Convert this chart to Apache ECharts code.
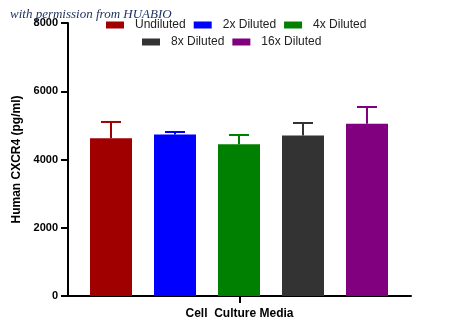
<!DOCTYPE html>
<html><head><meta charset="utf-8">
<script src="https://cdn.jsdelivr.net/npm/echarts@6/dist/echarts.min.js"></script>
<style>html,body{margin:0;padding:0;background:#fff}#c{width:450px;height:336px}</style>
</head><body><div id="c"></div>
<script>
const categories = ['Undiluted', '2x Diluted', '4x Diluted', '8x Diluted', '16x Diluted'];
const means = [4620, 4730, 4445, 4700, 5050];
const upper = [5100, 4806, 4718, 5070, 5538];
const colors = ['#a00000', '#0000ff', '#008000', '#333333', '#800080'];
const groupLabel = ['Cell  Culture Media'];
const yMin = 0, yMax = 8000, yStep = 2000;
const yName = 'Human CXCR4 (pg/ml)';
const watermark = 'with permission from HUABIO';

const chart = echarts.init(document.getElementById('c'), null, {renderer: 'canvas'});

const barSeries = categories.map((name, i) => ({
  name: name,
  type: 'bar',
  xAxisIndex: 1, yAxisIndex: 1,
  stack: 'all',
  barWidth: 42,
  itemStyle: {color: colors[i]},
  data: categories.map((c, j) => j === i ? means[j] : '-'),
  z: 2
}));

const errSeries = {
  type: 'custom',
  xAxisIndex: 1, yAxisIndex: 1,
  data: categories.map((c, i) => [i, means[i], upper[i]]),
  encode: {x: 0, y: [1, 2]},
  z: 3,
  renderItem: function (params, api) {
    const i = api.value(0);
    const top = api.coord([i, api.value(1)]);
    const hi = api.coord([i, api.value(2)]);
    const c = colors[i];
    return {
      type: 'group',
      children: [
        {type: 'line', shape: {x1: top[0], y1: top[1], x2: hi[0], y2: hi[1]}, style: {stroke: c, lineWidth: 2}},
        {type: 'line', shape: {x1: hi[0] - 10, y1: hi[1], x2: hi[0] + 10, y2: hi[1]}, style: {stroke: c, lineWidth: 2}}
      ]
    };
  }
};

const legendCommon = {
  itemWidth: 18, itemHeight: 7, itemGap: 8, icon: 'rect',
  textStyle: {fontFamily: 'Liberation Sans', fontSize: 12, color: '#222', padding: [0, 0, 0, 6]}
};

chart.setOption({
  animation: false,
  grid: [
    {left: 68, right: 39, top: 23, bottom: 40},
    {left: 79, right: 51, top: 23, bottom: 40}
  ],
  legend: [
    Object.assign({}, legendCommon, {data: categories.slice(0, 3), left: 101, top: 14}),
    Object.assign({}, legendCommon, {data: categories.slice(3), left: 137, top: 31})
  ],
  xAxis: [
    {
      type: 'category', gridIndex: 0, data: groupLabel,
      axisLine: {lineStyle: {color: '#000', width: 2}},
      axisTick: {show: true, length: 7, alignWithLabel: true, lineStyle: {color: '#000', width: 2}},
      axisLabel: {fontFamily: 'Liberation Sans', fontWeight: 'bold', fontSize: 12, color: '#000', margin: 12}
    },
    {
      type: 'category', gridIndex: 1, data: categories,
      show: false
    }
  ],
  yAxis: [
    {
      type: 'value', gridIndex: 0, min: yMin, max: yMax, interval: yStep,
      name: yName, nameLocation: 'middle', nameGap: 39,
      nameTextStyle: {fontFamily: 'Liberation Sans', fontWeight: 'bold', fontSize: 12, color: '#000'},
      axisLine: {show: true, lineStyle: {color: '#000', width: 2}},
      axisTick: {show: true, length: 7, lineStyle: {color: '#000', width: 2}},
      axisLabel: {fontFamily: 'Liberation Sans', fontWeight: 'bold', fontSize: 11, color: '#000', margin: 10,
        formatter: function (v) { return String(v); }},
      splitLine: {show: false}
    },
    {
      type: 'value', gridIndex: 1, min: yMin, max: yMax, interval: yStep, show: false,
      splitLine: {show: false}
    }
  ],
  graphic: [{
    type: 'text', left: 10, top: 8, z: 100,
    style: {text: watermark, font: 'italic 13px "Liberation Serif"', fill: '#1c2f5e'}
  }],
  series: barSeries.concat([errSeries])
});
</script></body></html>
